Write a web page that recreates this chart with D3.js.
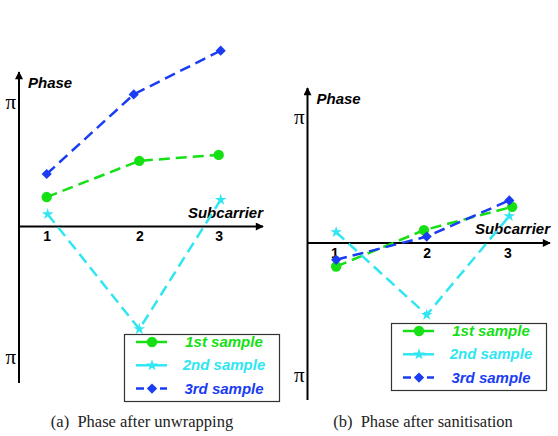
<!DOCTYPE html>
<html>
<head>
<meta charset="utf-8">
<script src="https://cdn.jsdelivr.net/npm/d3@7"></script>
<style>
  body { margin: 0; background: #fff; }
  svg { display: block; }
</style>
</head>
<body>
<div id="chart"></div>
<script>
// data (phase in radians)
var subcarriers = [1, 2, 3];
var sampleNames = ["1st sample", "2nd sample", "3rd sample"];
var phaseTicks = [-Math.PI, Math.PI];

// (a) after unwrapping
var unwrapFirst = [0.74, 1.65, 1.80];
var unwrapSecond = [0.31, -2.47, 0.67];
var unwrapThird = [1.32, 3.32, 4.42];
var unwrapThirdX = [1, 1.94, 3.025];
var unwrapSecondX = [1.01, 2, 3.025];

// (b) after sanitisation
var sanitFirst = [-0.56, 0.32, 0.90];
var sanitSecond = [0.27, -1.71, 0.67];
var sanitThird = [-0.40, 0.16, 1.06];
var sanitFirstX = [1.02, 1.97, 3.06];
var sanitOtherX = [1.02, 2, 3.025];

var colors = ["#14e014", "#2fe6f2", "#1a3cf2"];
var symbols = [d3.symbolCircle, d3.symbolStar, d3.symbolSquare];
var symbolSizes = [85, 42, 52];
var symbolRot = [0, 0, 45];

var svg = d3.select("#chart").append("svg")
  .attr("width", 558)
  .attr("height", 436);

var defs = svg.append("defs");
defs.append("marker")
  .attr("id", "arrow")
  .attr("viewBox", "0 0 10 10")
  .attr("refX", 9).attr("refY", 5)
  .attr("markerWidth", 10).attr("markerHeight", 8)
  .attr("markerUnits", "userSpaceOnUse")
  .attr("orient", "auto")
  .append("path")
  .attr("d", "M0,0 L10,5 L0,10 z")
  .attr("fill", "#000");

function drawPanel(p) {
  var g = svg.append("g");

  var x = d3.scaleLinear().domain(subcarriers).range(p.xRange);
  var y = d3.scaleLinear().domain([-Math.PI, 0, Math.PI]).range(p.yRange);

  // axes lines with arrows
  g.append("line")
    .attr("x1", p.axisX).attr("x2", p.axisX)
    .attr("y1", p.yBottom).attr("y2", p.yTop)
    .attr("stroke", "#000").attr("stroke-width", 2)
    .attr("marker-end", "url(#arrow)");
  g.append("line")
    .attr("x1", p.axisX).attr("x2", p.xEnd)
    .attr("y1", y(0)).attr("y2", y(0))
    .attr("stroke", "#000").attr("stroke-width", 2)
    .attr("marker-end", "url(#arrow)");

  // x tick labels
  var xa = g.append("g")
    .attr("transform", "translate(0," + y(0) + ")")
    .call(d3.axisBottom(x).tickValues(subcarriers).tickSize(0).tickPadding(5).tickFormat(d3.format("d")));
  xa.select(".domain").remove();
  xa.selectAll("text")
    .style("font-family", "Liberation Sans, Arial, sans-serif")
    .style("font-size", "14px")
    .style("font-weight", "bold")
    .attr("fill", "#000");

  // y tick labels (pi)
  var ya = g.append("g")
    .attr("transform", "translate(" + p.axisX + ",0)")
    .call(d3.axisLeft(y).tickValues(phaseTicks).tickSize(0).tickPadding(3).tickFormat(function() { return "π"; }));
  ya.select(".domain").remove();
  ya.selectAll("text")
    .style("font-family", "Liberation Serif, Times New Roman, serif")
    .style("font-size", "21px")
    .attr("fill", "#000");

  // axis titles
  g.append("text")
    .attr("x", p.axisX + 9).attr("y", p.yTop + 16)
    .style("font-family", "Liberation Sans, Arial, sans-serif")
    .style("font-size", "15px").style("font-weight", "bold").style("font-style", "italic")
    .text("Phase");
  g.append("text")
    .attr("x", p.xEnd).attr("y", y(0) - 9)
    .attr("text-anchor", "end")
    .style("font-family", "Liberation Sans, Arial, sans-serif")
    .style("font-size", "15px").style("font-weight", "bold").style("font-style", "italic")
    .text("Subcarrier");

  // series
  var line = d3.line()
    .x(function(d) { return x(d[0]); })
    .y(function(d) { return y(d[1]); });

  p.series.forEach(function(s, i) {
    var pts = s.values.map(function(v, j) { return [s.xs[j], v]; });
    g.append("path")
      .attr("d", line(pts))
      .attr("fill", "none")
      .attr("stroke", colors[i])
      .attr("stroke-width", 2.5)
      .attr("stroke-dasharray", "11,6");
    g.selectAll(".m" + i)
      .data(pts)
      .enter()
      .append("path")
      .attr("d", d3.symbol().type(symbols[i]).size(symbolSizes[i]))
      .attr("transform", function(d) { return "translate(" + x(d[0]) + "," + y(d[1]) + ") rotate(" + symbolRot[i] + ")"; })
      .attr("fill", colors[i]);
  });

  // legend
  var lg = g.append("g").attr("transform", "translate(" + p.legend[0] + "," + p.legend[1] + ")");
  lg.append("rect")
    .attr("x", 0.5).attr("y", 0.5)
    .attr("width", 155).attr("height", 67)
    .attr("fill", "#fff").attr("stroke", "#333").attr("stroke-width", 1.2);
  sampleNames.forEach(function(name, i) {
    var ry = 8 + i * 23.3;
    lg.append("line")
      .attr("x1", 12).attr("x2", 43)
      .attr("y1", ry).attr("y2", ry)
      .attr("stroke", colors[i]).attr("stroke-width", 2.5)
      .attr("stroke-dasharray", i == 2 ? "8,4" : null);
    lg.append("path")
      .attr("d", d3.symbol().type(symbols[i]).size(symbolSizes[i]))
      .attr("transform", "translate(28," + ry + ") rotate(" + symbolRot[i] + ")")
      .attr("fill", colors[i]);
    lg.append("text")
      .attr("x", 100).attr("y", ry + 5)
      .attr("text-anchor", "middle")
      .style("font-family", "Liberation Sans, Arial, sans-serif")
      .style("font-size", "15px").style("font-weight", "bold").style("font-style", "italic")
      .attr("fill", colors[i])
      .text(name);
  });

  // caption
  g.append("text")
    .attr("x", p.caption[0]).attr("y", p.caption[1])
    .attr("text-anchor", "middle")
    .style("font-family", "Liberation Serif, Times New Roman, serif")
    .style("font-size", "16.5px")
    .style("white-space", "pre")
    .attr("fill", "#222")
    .text(p.captionText);
}

drawPanel({
  xRange: [46.7, 139.3, 218.7],
  yRange: [357, 226.5, 101.5],
  axisX: 19, yTop: 72, yBottom: 383, xEnd: 263,
  legend: [124, 334],
  caption: [142, 427],
  captionText: "(a)  Phase after unwrapping",
  series: [
    { values: unwrapFirst, xs: subcarriers },
    { values: unwrapSecond, xs: unwrapSecondX },
    { values: unwrapThird, xs: unwrapThirdX }
  ]
});

drawPanel({
  xRange: [334.3, 426.7, 507.3],
  yRange: [375, 243, 116.7],
  axisX: 307.5, yTop: 88, yBottom: 400, xEnd: 550,
  legend: [391, 323],
  caption: [423, 427],
  captionText: "(b)  Phase after sanitisation",
  series: [
    { values: sanitFirst, xs: sanitFirstX },
    { values: sanitSecond, xs: sanitOtherX },
    { values: sanitThird, xs: sanitOtherX }
  ]
});
</script>
</body>
</html>
